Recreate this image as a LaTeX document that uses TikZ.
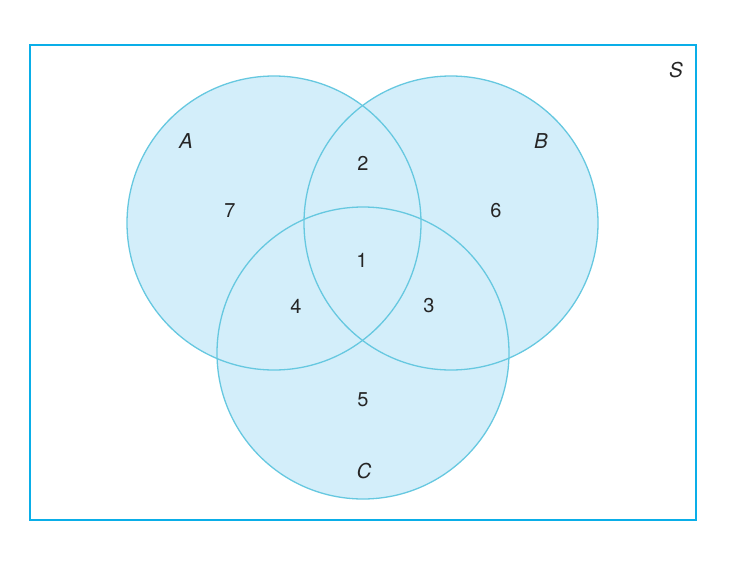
\documentclass[tikz,border=0pt]{standalone}
\usepackage{fontspec}
\setmainfont{TeX Gyre Heros}
\begin{document}
\begin{tikzpicture}[x=1pt,y=-1pt,
  setfill/.style={fill=vennfill,draw=none},
  setline/.style={draw=vennline,line width=1.3pt},
  lbl/.style={font=\fontsize{20.5}{24}\selectfont\itshape,text=black!85},
  num/.style={font=\fontsize{20}{24}\selectfont,text=black!85}]
\definecolor{vennfill}{HTML}{D3EEFA}
\definecolor{vennline}{HTML}{66C8E0}
\definecolor{boxline}{HTML}{0AAEE8}
\useasboundingbox (0,0) rectangle (731,565);
\node[draw=boxline,line width=2pt,minimum width=666pt,minimum height=475pt,inner sep=0pt] (S) at (363,282.5) {};
\fill[vennfill] (274,223) circle (147) (451,223) circle (147) (363,353) circle (146);
\node[setline,circle,minimum size=294pt,inner sep=0pt] (cA) at (274,223) {};
\node[setline,circle,minimum size=294pt,inner sep=0pt] (cB) at (451,223) {};
\node[setline,circle,minimum size=292pt,inner sep=0pt] (cC) at (363,353) {};
\node[lbl] (lS) at (676,70) {S};
\node[lbl] (lA) at (186,141) {A};
\node[lbl] (lB) at (541,141) {B};
\node[lbl] (lC) at (364,471) {C};
\node[num] (n7) at (230,211) {7};
\node[num] (n2) at (363,163) {2};
\node[num] (n6) at (496,211) {6};
\node[num] (n1) at (362,260) {1};
\node[num] (n4) at (296,306) {4};
\node[num] (n3) at (429,306) {3};
\node[num] (n5) at (363,400) {5};
\end{tikzpicture}
\end{document}
